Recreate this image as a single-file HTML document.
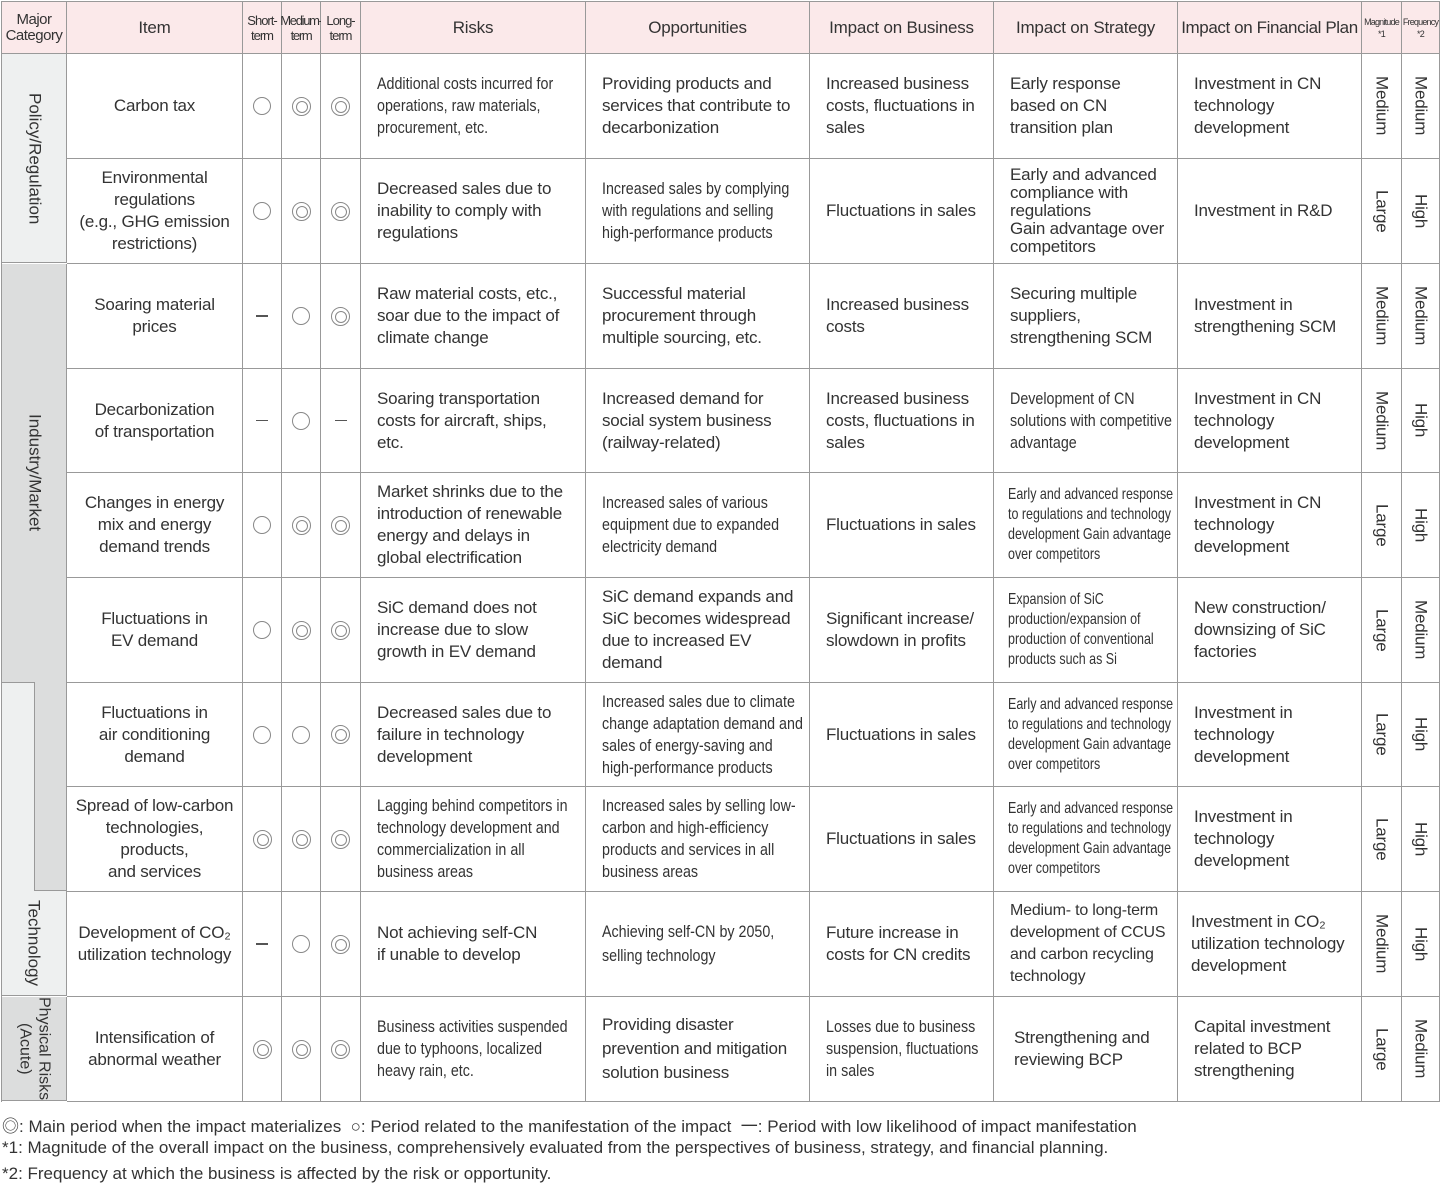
<!DOCTYPE html>
<html><head><meta charset="utf-8"><style>
*{margin:0;padding:0;box-sizing:border-box}
body{width:1440px;height:1187px;background:#fff;position:relative;font-family:"Liberation Sans","Noto Sans CJK JP",sans-serif;color:#333;overflow:hidden}
.c{position:absolute;border-right:1px solid #999;border-bottom:1px solid #999;display:flex;align-items:center;font-size:17px;line-height:22px;letter-spacing:-0.2px}
.l{padding-left:16px;padding-right:4px}
.m{justify-content:center;text-align:center}
.h{background:#fbe9ea}
.in{display:block;flex:none;transform:scaleX(.84);transform-origin:left center;font-size:17px;line-height:22px;letter-spacing:0}
.sr{width:244px}
.sb{width:195px}
.sx{width:214px;transform:scaleX(.78);font-size:16px;line-height:20px}
.o{display:inline-block;width:18px;height:18px;border:1.3px solid #888;border-radius:50%}
.w{display:inline-block;width:19px;height:19px;border:1.3px solid #888;border-radius:50%;position:relative}
.w::after{content:"";position:absolute;left:3px;top:3px;width:10px;height:10px;border:1.3px solid #888;border-radius:50%}
.v{writing-mode:vertical-rl;justify-content:center}
.d{display:inline-block;width:12px;height:1.5px;background:#555}
.bg{position:absolute}
.f{position:absolute;left:2px;font-size:17px;color:#333}
</style></head><body>
<div style="position:absolute;left:1px;top:1px;width:1439px;height:1101px;border-left:1px solid #999;border-top:1px solid #999"></div>

<div class="bg" style="left:2px;top:54px;width:65px;height:209px;background:#eef0f0;border-bottom:1px solid #999;border-right:1px solid #999"></div>
<div class="bg" style="left:2px;top:264px;width:65px;height:418px;background:#dcdddd"></div>
<div class="bg" style="left:34px;top:682px;width:33px;height:209px;background:#dcdddd;border-left:1px solid #999;border-bottom:1px solid #999"></div>
<div class="bg" style="left:2px;top:682px;width:32px;height:209px;background:#eef0f0;border-top:1px solid #999"></div>
<div class="bg" style="left:2px;top:891px;width:65px;height:105px;background:#eef0f0;border-bottom:1px solid #999;border-right:1px solid #999"></div>
<div class="bg" style="left:2px;top:997px;width:65px;height:104px;background:#dcdddd;border-bottom:1px solid #999;border-right:1px solid #999"></div>
<div class="bg" style="left:66px;top:264px;width:1px;height:627px;background:#999"></div>
<div class="bg v" style="left:2px;top:54px;width:65px;height:209px;display:flex;align-items:center;font-size:17px">Policy/Regulation</div>
<div class="bg v" style="left:2px;top:264px;width:65px;height:418px;display:flex;align-items:center;font-size:17px">Industry/Market</div>
<div class="bg v" style="left:2px;top:891px;width:65px;height:105px;display:flex;align-items:center;font-size:17px;padding-right:2px">Technology</div>
<div class="bg v" style="left:2px;top:997px;width:65px;height:104px;display:flex;align-items:center;font-size:16px;line-height:19px;text-align:center">Physical Risks<br>(Acute)</div>

<div class="c h m" style="left:2px;top:2px;width:65px;height:52px;font-size:15px;line-height:16px;letter-spacing:-0.5px">Major<br>Category</div>
<div class="c h m" style="left:67px;top:2px;width:176px;height:52px">Item</div>
<div class="c h m" style="left:243px;top:2px;width:39px;height:52px;font-size:13px;line-height:15px;letter-spacing:-1px">Short-<br>term</div>
<div class="c h m" style="left:282px;top:2px;width:39px;height:52px;font-size:13px;line-height:15px;letter-spacing:-1.3px">Medium-<br>term</div>
<div class="c h m" style="left:321px;top:2px;width:40px;height:52px;font-size:13px;line-height:15px;letter-spacing:-1px">Long-<br>term</div>
<div class="c h m" style="left:361px;top:2px;width:225px;height:52px">Risks</div>
<div class="c h m" style="left:586px;top:2px;width:224px;height:52px">Opportunities</div>
<div class="c h m" style="left:810px;top:2px;width:184px;height:52px">Impact on Business</div>
<div class="c h m" style="left:994px;top:2px;width:184px;height:52px">Impact on Strategy</div>
<div class="c h m" style="left:1178px;top:2px;width:184px;height:52px;letter-spacing:-0.4px">Impact on Financial Plan</div>
<div class="c h m" style="left:1362px;top:2px;width:40px;height:52px;font-size:9px;line-height:12px;letter-spacing:-0.8px">Magnitude<br>*1</div>
<div class="c h m" style="left:1402px;top:2px;width:38px;height:52px;font-size:9px;line-height:12px;letter-spacing:-0.8px">Frequency<br>*2</div>

<!-- r1 -->
<div class="c m" style="left:67px;top:54px;width:176px;height:105px">Carbon tax</div>
<div class="c m" style="left:243px;top:54px;width:39px;height:105px"><span class="o"></span></div>
<div class="c m" style="left:282px;top:54px;width:39px;height:105px"><span class="w"></span></div>
<div class="c m" style="left:321px;top:54px;width:40px;height:105px"><span class="w"></span></div>
<div class="c l" style="left:361px;top:54px;width:225px;height:105px"><span class="in sr">Additional costs incurred for operations, raw materials, procurement, etc.</span></div>
<div class="c l" style="left:586px;top:54px;width:224px;height:105px">Providing products and services that contribute to decarbonization</div>
<div class="c l" style="left:810px;top:54px;width:184px;height:105px;padding-right:12px">Increased business costs, fluctuations in sales</div>
<div class="c l" style="left:994px;top:54px;width:184px;height:105px;padding-right:16px">Early response based on CN transition plan</div>
<div class="c l" style="left:1178px;top:54px;width:184px;height:105px">Investment in CN technology development</div>
<div class="c v" style="left:1362px;top:54px;width:40px;height:105px;align-items:center">Medium</div>
<div class="c v" style="left:1402px;top:54px;width:38px;height:105px;align-items:center">Medium</div>

<!-- r2 -->
<div class="c m" style="left:67px;top:159px;width:176px;height:105px">Environmental regulations<br>(e.g., GHG emission restrictions)</div>
<div class="c m" style="left:243px;top:159px;width:39px;height:105px"><span class="o"></span></div>
<div class="c m" style="left:282px;top:159px;width:39px;height:105px"><span class="w"></span></div>
<div class="c m" style="left:321px;top:159px;width:40px;height:105px"><span class="w"></span></div>
<div class="c l" style="left:361px;top:159px;width:225px;height:105px">Decreased sales due to inability to comply with regulations</div>
<div class="c l" style="left:586px;top:159px;width:224px;height:105px"><span class="in sr">Increased sales by complying with regulations and selling high-performance products</span></div>
<div class="c l" style="left:810px;top:159px;width:184px;height:105px">Fluctuations in sales</div>
<div class="c l" style="left:994px;top:159px;width:184px;height:105px;line-height:18px">Early and advanced compliance with regulations<br>Gain advantage over competitors</div>
<div class="c l" style="left:1178px;top:159px;width:184px;height:105px">Investment in R&amp;D</div>
<div class="c v" style="left:1362px;top:159px;width:40px;height:105px;align-items:center">Large</div>
<div class="c v" style="left:1402px;top:159px;width:38px;height:105px;align-items:center">High</div>

<!-- r3 -->
<div class="c m" style="left:67px;top:264px;width:176px;height:105px">Soaring material<br>prices</div>
<div class="c m" style="left:243px;top:264px;width:39px;height:105px"><span class="d"></span></div>
<div class="c m" style="left:282px;top:264px;width:39px;height:105px"><span class="o"></span></div>
<div class="c m" style="left:321px;top:264px;width:40px;height:105px"><span class="w"></span></div>
<div class="c l" style="left:361px;top:264px;width:225px;height:105px">Raw material costs, etc., soar due to the impact of climate change</div>
<div class="c l" style="left:586px;top:264px;width:224px;height:105px">Successful material procurement through multiple sourcing, etc.</div>
<div class="c l" style="left:810px;top:264px;width:184px;height:105px">Increased business costs</div>
<div class="c l" style="left:994px;top:264px;width:184px;height:105px">Securing multiple suppliers, strengthening SCM</div>
<div class="c l" style="left:1178px;top:264px;width:184px;height:105px">Investment in strengthening SCM</div>
<div class="c v" style="left:1362px;top:264px;width:40px;height:105px;align-items:center">Medium</div>
<div class="c v" style="left:1402px;top:264px;width:38px;height:105px;align-items:center">Medium</div>

<!-- r4 -->
<div class="c m" style="left:67px;top:369px;width:176px;height:104px">Decarbonization<br>of transportation</div>
<div class="c m" style="left:243px;top:369px;width:39px;height:104px"><span class="d"></span></div>
<div class="c m" style="left:282px;top:369px;width:39px;height:104px"><span class="o"></span></div>
<div class="c m" style="left:321px;top:369px;width:40px;height:104px"><span class="d"></span></div>
<div class="c l" style="left:361px;top:369px;width:225px;height:104px;padding-right:16px">Soaring transportation costs for aircraft, ships, etc.</div>
<div class="c l" style="left:586px;top:369px;width:224px;height:104px">Increased demand for social system business (railway-related)</div>
<div class="c l" style="left:810px;top:369px;width:184px;height:104px;padding-right:12px">Increased business costs, fluctuations in sales</div>
<div class="c l" style="left:994px;top:369px;width:184px;height:104px"><span class="in sb">Development of CN solutions with competitive advantage</span></div>
<div class="c l" style="left:1178px;top:369px;width:184px;height:104px">Investment in CN technology development</div>
<div class="c v" style="left:1362px;top:369px;width:40px;height:104px;align-items:center">Medium</div>
<div class="c v" style="left:1402px;top:369px;width:38px;height:104px;align-items:center">High</div>

<!-- r5 -->
<div class="c m" style="left:67px;top:473px;width:176px;height:105px;padding:0 8px">Changes in energy mix and energy demand trends</div>
<div class="c m" style="left:243px;top:473px;width:39px;height:105px"><span class="o"></span></div>
<div class="c m" style="left:282px;top:473px;width:39px;height:105px"><span class="w"></span></div>
<div class="c m" style="left:321px;top:473px;width:40px;height:105px"><span class="w"></span></div>
<div class="c l" style="left:361px;top:473px;width:225px;height:105px;padding-right:12px">Market shrinks due to the introduction of renewable energy and delays in global electrification</div>
<div class="c l" style="left:586px;top:473px;width:224px;height:105px"><span class="in sr">Increased sales of various equipment due to expanded electricity demand</span></div>
<div class="c l" style="left:810px;top:473px;width:184px;height:105px">Fluctuations in sales</div>
<div class="c l" style="left:994px;top:473px;width:184px;height:105px;padding-left:14px"><span class="in sx">Early and advanced response to regulations and technology development Gain advantage over competitors</span></div>
<div class="c l" style="left:1178px;top:473px;width:184px;height:105px">Investment in CN technology development</div>
<div class="c v" style="left:1362px;top:473px;width:40px;height:105px;align-items:center">Large</div>
<div class="c v" style="left:1402px;top:473px;width:38px;height:105px;align-items:center">High</div>

<!-- r6 -->
<div class="c m" style="left:67px;top:578px;width:176px;height:105px">Fluctuations in<br>EV demand</div>
<div class="c m" style="left:243px;top:578px;width:39px;height:105px"><span class="o"></span></div>
<div class="c m" style="left:282px;top:578px;width:39px;height:105px"><span class="w"></span></div>
<div class="c m" style="left:321px;top:578px;width:40px;height:105px"><span class="w"></span></div>
<div class="c l" style="left:361px;top:578px;width:225px;height:105px;padding-right:16px">SiC demand does not increase due to slow growth in EV demand</div>
<div class="c l" style="left:586px;top:578px;width:224px;height:105px">SiC demand expands and SiC becomes widespread due to increased EV demand</div>
<div class="c l" style="left:810px;top:578px;width:184px;height:105px">Significant increase/ slowdown in profits</div>
<div class="c l" style="left:994px;top:578px;width:184px;height:105px;padding-left:14px"><span class="in sx">Expansion of SiC production/expansion of production of conventional products such as Si</span></div>
<div class="c l" style="left:1178px;top:578px;width:184px;height:105px;padding-right:16px">New construction/ downsizing of SiC factories</div>
<div class="c v" style="left:1362px;top:578px;width:40px;height:105px;align-items:center">Large</div>
<div class="c v" style="left:1402px;top:578px;width:38px;height:105px;align-items:center">Medium</div>

<!-- r7 -->
<div class="c m" style="left:67px;top:683px;width:176px;height:104px">Fluctuations in<br>air conditioning<br>demand</div>
<div class="c m" style="left:243px;top:683px;width:39px;height:104px"><span class="o"></span></div>
<div class="c m" style="left:282px;top:683px;width:39px;height:104px"><span class="o"></span></div>
<div class="c m" style="left:321px;top:683px;width:40px;height:104px"><span class="w"></span></div>
<div class="c l" style="left:361px;top:683px;width:225px;height:104px">Decreased sales due to failure in technology development</div>
<div class="c l" style="left:586px;top:683px;width:224px;height:104px"><span class="in sr">Increased sales due to climate change adaptation demand and sales of energy-saving and high-performance products</span></div>
<div class="c l" style="left:810px;top:683px;width:184px;height:104px">Fluctuations in sales</div>
<div class="c l" style="left:994px;top:683px;width:184px;height:104px;padding-left:14px"><span class="in sx">Early and advanced response to regulations and technology development Gain advantage over competitors</span></div>
<div class="c l" style="left:1178px;top:683px;width:184px;height:104px">Investment in technology development</div>
<div class="c v" style="left:1362px;top:683px;width:40px;height:104px;align-items:center">Large</div>
<div class="c v" style="left:1402px;top:683px;width:38px;height:104px;align-items:center">High</div>

<!-- r8 -->
<div class="c m" style="left:67px;top:787px;width:176px;height:105px">Spread of low-carbon technologies,<br>products,<br>and services</div>
<div class="c m" style="left:243px;top:787px;width:39px;height:105px"><span class="w"></span></div>
<div class="c m" style="left:282px;top:787px;width:39px;height:105px"><span class="w"></span></div>
<div class="c m" style="left:321px;top:787px;width:40px;height:105px"><span class="w"></span></div>
<div class="c l" style="left:361px;top:787px;width:225px;height:105px"><span class="in sr">Lagging behind competitors in technology development and commercialization in all business areas</span></div>
<div class="c l" style="left:586px;top:787px;width:224px;height:105px"><span class="in sr">Increased sales by selling low-carbon and high-efficiency products and services in all business areas</span></div>
<div class="c l" style="left:810px;top:787px;width:184px;height:105px">Fluctuations in sales</div>
<div class="c l" style="left:994px;top:787px;width:184px;height:105px;padding-left:14px"><span class="in sx">Early and advanced response to regulations and technology development Gain advantage over competitors</span></div>
<div class="c l" style="left:1178px;top:787px;width:184px;height:105px">Investment in technology development</div>
<div class="c v" style="left:1362px;top:787px;width:40px;height:105px;align-items:center">Large</div>
<div class="c v" style="left:1402px;top:787px;width:38px;height:105px;align-items:center">High</div>

<!-- r9 -->
<div class="c m" style="left:67px;top:892px;width:176px;height:105px">Development of CO₂ utilization technology</div>
<div class="c m" style="left:243px;top:892px;width:39px;height:105px"><span class="d"></span></div>
<div class="c m" style="left:282px;top:892px;width:39px;height:105px"><span class="o"></span></div>
<div class="c m" style="left:321px;top:892px;width:40px;height:105px"><span class="w"></span></div>
<div class="c l" style="left:361px;top:892px;width:225px;height:105px">Not achieving self-CN<br>if unable to develop</div>
<div class="c l" style="left:586px;top:892px;width:224px;height:105px"><span class="in sr" style="line-height:24px">Achieving self-CN by 2050, selling technology</span></div>
<div class="c l" style="left:810px;top:892px;width:184px;height:105px">Future increase in costs for CN credits</div>
<div class="c l" style="left:994px;top:892px;width:184px;height:105px;font-size:16px">Medium- to long-term development of CCUS and carbon recycling technology</div>
<div class="c l" style="left:1178px;top:892px;width:184px;height:105px;padding-left:13px">Investment in CO₂ utilization technology development</div>
<div class="c v" style="left:1362px;top:892px;width:40px;height:105px;align-items:center">Medium</div>
<div class="c v" style="left:1402px;top:892px;width:38px;height:105px;align-items:center">High</div>

<!-- r10 -->
<div class="c m" style="left:67px;top:997px;width:176px;height:105px">Intensification of abnormal weather</div>
<div class="c m" style="left:243px;top:997px;width:39px;height:105px"><span class="w"></span></div>
<div class="c m" style="left:282px;top:997px;width:39px;height:105px"><span class="w"></span></div>
<div class="c m" style="left:321px;top:997px;width:40px;height:105px"><span class="w"></span></div>
<div class="c l" style="left:361px;top:997px;width:225px;height:105px"><span class="in sr">Business activities suspended due to typhoons, localized heavy rain, etc.</span></div>
<div class="c l" style="left:586px;top:997px;width:224px;height:105px;line-height:24px">Providing disaster prevention and mitigation solution business</div>
<div class="c l" style="left:810px;top:997px;width:184px;height:105px"><span class="in sb">Losses due to business suspension, fluctuations in sales</span></div>
<div class="c l" style="left:994px;top:997px;width:184px;height:105px;padding-left:20px">Strengthening and reviewing BCP</div>
<div class="c l" style="left:1178px;top:997px;width:184px;height:105px">Capital investment related to BCP strengthening</div>
<div class="c v" style="left:1362px;top:997px;width:40px;height:105px;align-items:center">Large</div>
<div class="c v" style="left:1402px;top:997px;width:38px;height:105px;align-items:center">Medium</div>

<div class="f" style="top:1112px">◎: Main period when the impact materializes &nbsp;○: Period related to the manifestation of the impact &nbsp;一: Period with low likelihood of impact manifestation</div>
<div class="f" style="top:1138px">*1: Magnitude of the overall impact on the business, comprehensively evaluated from the perspectives of business, strategy, and financial planning.</div>
<div class="f" style="top:1164px">*2: Frequency at which the business is affected by the risk or opportunity.</div>
</body></html>
